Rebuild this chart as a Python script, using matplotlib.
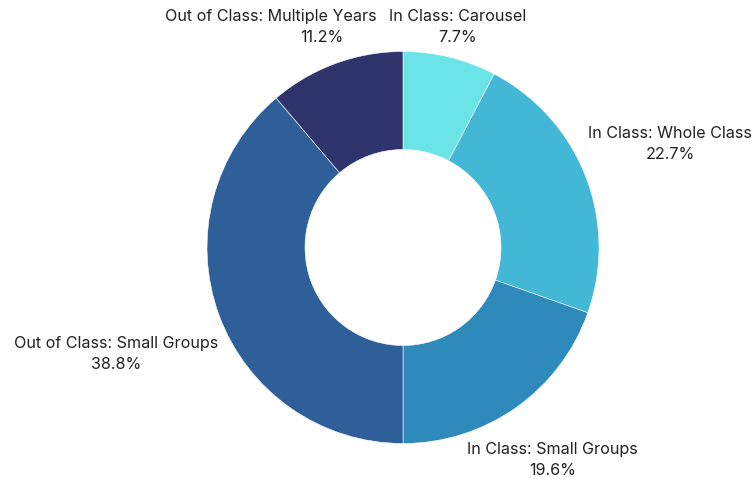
import numpy as np
import matplotlib
matplotlib.use("Agg")
import matplotlib.pyplot as plt

# Donut: share of each activity type
labels = ["In Class: Carousel", "In Class: Whole Class", "In Class: Small Groups",
          "Out of Class: Small Groups", "Out of Class: Multiple Years"]
shares = [7.7, 22.7, 19.6, 38.8, 11.2]
colors = ["#6ae4e6", "#42b7d6", "#2e8abb", "#2e5f98", "#2f356c"]

W, H = 756, 481
cx, cy = 403, H - 248.5   # centre of the ring, pixel units
R = 196
gap = 9.5                 # space between ring and label box
line_gap = 21             # distance between name line and percent line
name_dx = [0, 0, 0, 0, -51]  # nudge the crowded top-left label away from its neighbour

plt.rcParams['font.family'] = ['Inter', 'DejaVu Sans']
fs = 11.6
tc = "#222222"

fig = plt.figure(figsize=(W / 100, H / 100), dpi=100)
ax = fig.add_axes([0, 0, 1, 1])
wedges, _ = ax.pie(shares, colors=colors, startangle=90, counterclock=False,
                   center=(cx, cy), radius=R,
                   wedgeprops=dict(width=R / 2, edgecolor="white", linewidth=0.4))
ax.set_xlim(0, W)
ax.set_ylim(0, H)
ax.set_aspect("equal")
ax.axis("off")

fig.canvas.draw()
rend = fig.canvas.get_renderer()

for w, name, val, dx in zip(wedges, labels, shares, name_dx):
    th = np.deg2rad((w.theta1 + w.theta2) / 2)
    t_name = ax.text(0, 0, name, ha="center", va="center", fontsize=fs, color=tc)
    t_pct = ax.text(0, 0, f"{val}%", ha="center", va="center", fontsize=fs, color=tc)
    bw = max(t_name.get_window_extent(rend).width, t_pct.get_window_extent(rend).width)
    bh = line_gap + 10
    # slide the label box outward along the mid-angle until it clears the ring
    t = R
    while True:
        x, y = t * np.cos(th), t * np.sin(th)
        nx = max(abs(x) - bw / 2, 0)
        ny = max(abs(y) - bh / 2, 0)
        if np.hypot(nx, ny) >= R + gap:
            break
        t += 0.5
    t_name.set_position((cx + x + dx, cy + y + line_gap / 2))
    t_pct.set_position((cx + x, cy + y - line_gap / 2))

fig.savefig("out.png", dpi=100)
